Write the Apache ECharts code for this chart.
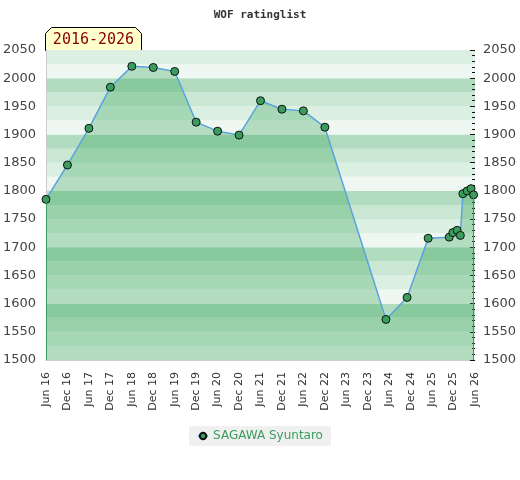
<!DOCTYPE html>
<html>
<head>
<meta charset="utf-8">
<script src="https://cdn.jsdelivr.net/npm/echarts@6/dist/echarts.min.js"></script>
<style>
  html, body { margin: 0; padding: 0; background: #fff; }
  #chart { width: 520px; height: 480px; }
</style>
</head>
<body>
<div id="chart"></div>
<script>
  // months counted from Jun 2016
  const months = [0, 6, 12, 18, 24, 30, 36, 42, 48, 54, 60, 66, 72, 78,
    95.1, 101, 106.9, 112.8, 113.8, 115, 115.9, 116.6, 117.8, 118.9, 119.6];
  const ratings = [1785, 1846, 1911, 1984, 2021, 2019, 2012, 1922, 1906, 1899, 1960, 1945, 1942, 1913,
    1572, 1611, 1716, 1718, 1726, 1730, 1721, 1795, 1800, 1804, 1793];
  const tickLabels = ['Jun 16', 'Dec 16', 'Jun 17', 'Dec 17', 'Jun 18', 'Dec 18', 'Jun 19', 'Dec 19',
    'Jun 20', 'Dec 20', 'Jun 21', 'Dec 21', 'Jun 22', 'Dec 22', 'Jun 23', 'Dec 23', 'Jun 24', 'Dec 24',
    'Jun 25', 'Dec 25', 'Jun 26'];
  const playerName = 'SAGAWA Syuntaro';
  const periodLabel = '2016-2026';

  const chart = echarts.init(document.getElementById('chart'));
  const bands = ['#eff7f2', '#dcefe3', '#c9e7d3', '#b2dcc0'];
  const labelFont = { fontFamily: 'DejaVu Sans', fontSize: 13, color: '#444', formatter: v => String(v) };
  const yMin = 1500, yMax = 2050;

  // area edges drop straight down from the first and last point
  const last = months.length - 1;
  const edgeLines = [
    [{ coord: [months[0], yMin] }, { coord: [months[0], ratings[0]] }],
    [{ coord: [months[last], yMin] }, { coord: [months[last], ratings[last]] }]
  ];

  const option = {
    animation: false,
    title: {
      text: 'WOF ratinglist',
      left: 'center',
      top: 5,
      textStyle: { fontFamily: 'DejaVu Sans Mono', fontSize: 11, fontWeight: 'bold', color: '#333' }
    },
    grid: { left: 46, right: 45, top: 50, bottom: 120, containLabel: false, outerBoundsMode: 'none' },
    xAxis: {
      type: 'value',
      min: 0,
      max: 120,
      interval: 6,
      axisLine: { show: true, lineStyle: { color: '#ccc' } },
      axisTick: { show: false },
      splitLine: { show: false },
      axisLabel: {
        rotate: 90,
        fontFamily: 'DejaVu Sans',
        fontSize: 11,
        color: '#333',
        margin: 12,
        formatter: v => tickLabels[Math.round(v / 6)]
      }
    },
    yAxis: [
      {
        type: 'value', position: 'left', min: yMin, max: yMax, interval: 50,
        axisLine: { show: true, lineStyle: { color: '#ccc' } },
        axisTick: { show: false },
        splitLine: { show: false },
        axisLabel: Object.assign({ margin: 10 }, labelFont)
      },
      {
        type: 'value', position: 'right', min: yMin, max: yMax, interval: 50,
        axisLine: { show: false },
        axisTick: { show: true, inside: true, length: 5, lineStyle: { color: '#111' } },
        minorTick: { show: true, splitNumber: 5, length: 3, lineStyle: { color: '#111' } },
        splitLine: { show: false },
        axisLabel: Object.assign({ margin: 8 }, labelFont)
      },
      {
        type: 'value', position: 'left', min: yMin, max: yMax, interval: 25, z: 0,
        axisLine: { show: false },
        axisTick: { show: false },
        axisLabel: { show: false },
        splitLine: { show: false },
        splitArea: { show: true, areaStyle: { color: bands } }
      }
    ],
    legend: {
      bottom: 34,
      left: 'center',
      backgroundColor: '#f0f0f0',
      padding: [4, 8],
      itemWidth: 10,
      itemHeight: 8,
      textStyle: { fontFamily: 'DejaVu Sans', fontSize: 12, color: '#3a9d5d' }
    },
    graphic: [
      {
        type: 'group',
        left: 45,
        top: 27,
        children: [
          {
            type: 'polygon',
            shape: { points: [[0, 6], [6, 0], [90, 0], [96, 6], [96, 23], [0, 23]] },
            style: { fill: '#ffffcc', stroke: '#000', lineWidth: 1 }
          },
          {
            type: 'text',
            x: 48,
            y: 13,
            style: {
              text: periodLabel,
              fontFamily: 'DejaVu Sans Mono',
              fontSize: 15,
              fill: '#880000',
              align: 'center',
              verticalAlign: 'middle'
            }
          }
        ]
      }
    ],
    series: [
      {
        name: playerName,
        type: 'line',
        yAxisIndex: 0,
        data: months.map((m, i) => [m, ratings[i]]),
        symbol: 'circle',
        symbolSize: 8,
        itemStyle: { color: '#3a9d5d', borderColor: '#111', borderWidth: 1 },
        lineStyle: { color: '#5aa3dc', width: 1.5 },
        areaStyle: { color: 'rgba(47,161,81,0.44)', origin: 'start' },
        markLine: {
          silent: true,
          symbol: 'none',
          label: { show: false },
          lineStyle: { color: '#3a9d5d', width: 1, type: 'solid' },
          data: edgeLines
        },
        z: 3
      }
    ]
  };

  chart.setOption(option);
</script>
</body>
</html>
